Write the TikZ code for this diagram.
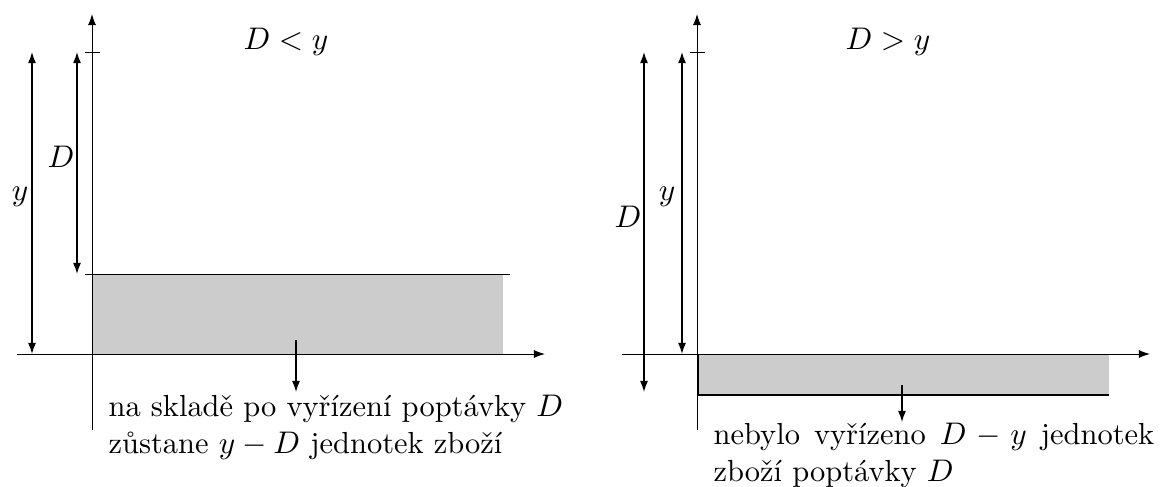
\documentclass[tikz,border=0pt]{standalone}
\usepackage{amsmath,amssymb}
\usepackage{tikz}
\usetikzlibrary{arrows.meta,calc,positioning}
\usepackage{xcolor}

\begin{document}
\begin{tikzpicture}[x=0.32pt, y=-0.32pt,
    every node/.style={font=\fontsize{9.75}{11.8}\selectfont},
    axis/.style={line width=0.3pt, -{Latex[length=3.6pt,width=2.6pt]}},
    thinline/.style={line width=0.3pt},
    dimline/.style={line width=0.45pt, {Latex[length=3.6pt,width=2.6pt]}-{Latex[length=3.6pt,width=2.6pt]}},
    pointer/.style={line width=0.4pt, -{Latex[length=3.6pt,width=2.6pt]}},
    stock/.style={fill=gray!40, draw=none},
    note/.style={inner sep=0pt, anchor=north west}]
  \useasboundingbox (0,0) rectangle (1169,487);
  % panel 1: D < y
  \begin{scope}
    \coordinate (o1) at (92,354);
    \fill[stock] (92,274) rectangle (503,354);
    \coordinate (top1l) at (85,274);
    \coordinate (top1r) at (510,274);
    \draw[thinline] (top1l) -- (top1r);
    \coordinate (r1t) at (92.5,274);
    \coordinate (r1b) at (92.5,354);
    \draw[line width=0.4pt] (r1t) -- (r1b);
    \coordinate (x1l) at (17,354);
    \coordinate (x1r) at (545,354);
    \coordinate (y1b) at (92,430);
    \coordinate (y1t) at (92,14);
    \draw[axis] (x1l) -- (x1r);
    \draw[axis] (y1b) -- (y1t);
    \coordinate (tk1l) at (85,52);
    \coordinate (tk1r) at (100,52);
    \draw[thinline] (tk1l) -- (tk1r);
    \coordinate (dy1t) at (32,52);
    \coordinate (dy1b) at (32,354);
    \draw[dimline] (dy1t) -- (dy1b);
    \coordinate (dD1t) at (77,52);
    \coordinate (dD1b) at (77,274);
    \draw[dimline] (dD1t) -- (dD1b);
    \node (ylab1) at (20,197) {$y$};
    \node (Dlab1) at (61,157) {$D$};
    \node (title1) at (286,42) {$D < y$};
    \coordinate (p1s) at (296,340);
    \coordinate (p1e) at (296,392);
    \draw[pointer] (p1s) -- (p1e);
    \node[note, align=left] (note1) at (108,395)
      {na skladě po vyřízení poptávky $D$\\zůstane $y-D$ jednotek zboží};
  \end{scope}
  % panel 2: D > y
  \begin{scope}
    \coordinate (o2) at (697,354);
    \fill[stock] (698,354) rectangle (1109,395);
    \coordinate (r2a) at (698,354);
    \coordinate (r2b) at (698,395);
    \coordinate (r2c) at (1109,395);
    \draw[line width=0.4pt] (r2a) -- (r2b) -- (r2c);
    \coordinate (x2l) at (622,354);
    \coordinate (x2r) at (1150,354);
    \coordinate (y2b) at (697,430);
    \coordinate (y2t) at (697,14);
    \draw[axis] (x2l) -- (x2r);
    \draw[axis] (y2b) -- (y2t);
    \coordinate (tk2l) at (690,52);
    \coordinate (tk2r) at (705,52);
    \draw[thinline] (tk2l) -- (tk2r);
    \coordinate (dD2t) at (644,52);
    \coordinate (dD2b) at (644,392);
    \draw[dimline] (dD2t) -- (dD2b);
    \coordinate (dy2t) at (682,52);
    \coordinate (dy2b) at (682,354);
    \draw[dimline] (dy2t) -- (dy2b);
    \node (Dlab2) at (628,217) {$D$};
    \node (ylab2) at (667,197) {$y$};
    \node (title2) at (888,42) {$D > y$};
    \coordinate (p2s) at (902,385);
    \coordinate (p2e) at (902,422);
    \draw[pointer] (p2s) -- (p2e);
    \node[note, text width=141pt, align=justify] (note2) at (713,423)
      {nebylo vyřízeno $D-y$ jednotek\linebreak zboží poptávky $D$};
  \end{scope}
\end{tikzpicture}
\end{document}
